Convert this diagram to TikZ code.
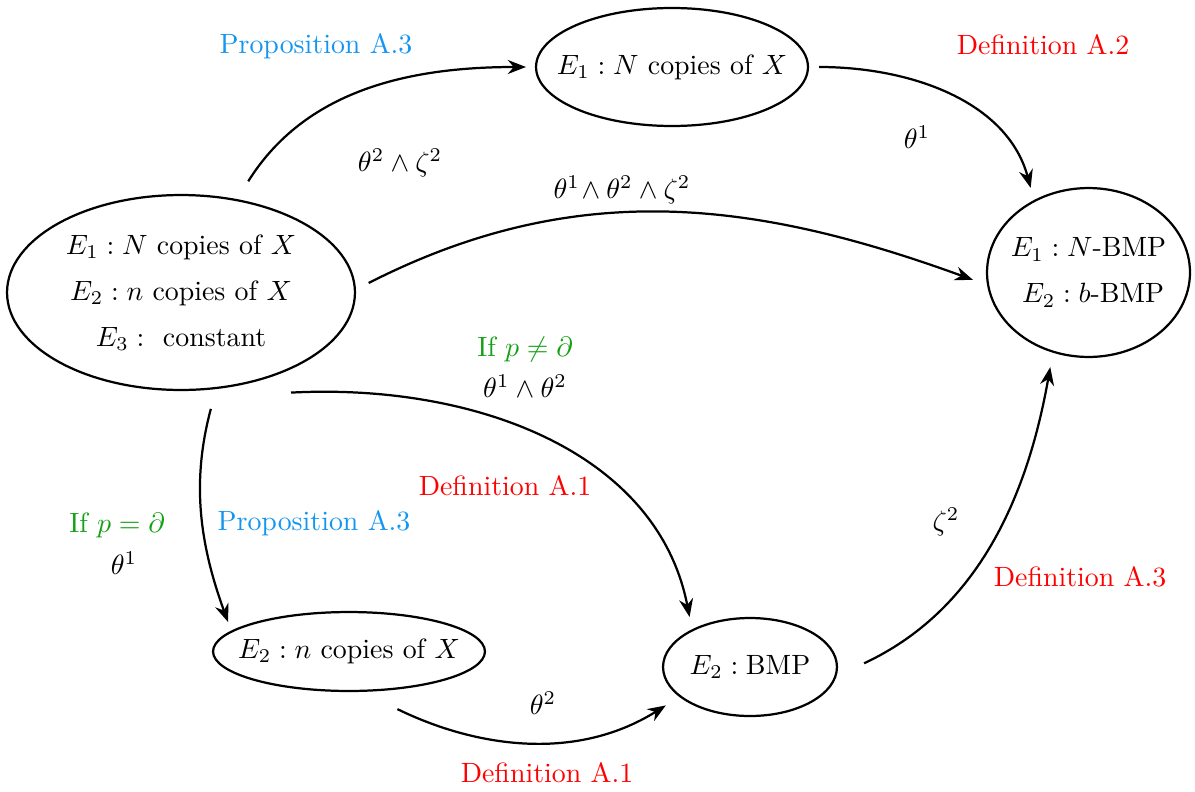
\documentclass[tikz,border=0pt]{standalone}
\usepackage{amsmath,amssymb}
\usepackage{xcolor}
\usepackage{tikz}
\usetikzlibrary{arrows.meta, positioning, shapes.geometric, calc}

\definecolor{propblue}{RGB}{20,150,240}
\definecolor{condgreen}{RGB}{20,160,20}

\begin{document}
\begin{tikzpicture}[x=0.0126cm, y=-0.0126cm,
  state/.style={draw, thick, ellipse, inner sep=0pt},
  flow/.style={-{Stealth[length=6.5pt, width=5pt]}, thick},
  prop/.style={text=propblue},
  defn/.style={text=red},
  cond/.style={text=condgreen}]

\useasboundingbox (0,0) rectangle (1195,791);

% -- States -----------------------------------------------------------------
\node[state, minimum width=3.427cm, minimum height=1.487cm] (top) at (672,67) {};
\node[state, minimum width=4.385cm, minimum height=2.457cm] (src) at (181,292.5) {};
\node[state, minimum width=2.558cm, minimum height=2.129cm] (goal) at (1088.5,272.5) {};
\node[state, minimum width=3.427cm, minimum height=0.995cm] (low) at (349,651.5) {};
\node[state, minimum width=2.192cm, minimum height=1.235cm] (bmp) at (750,667) {};

\node (topT) at (top) {$E_1 : N$ copies of $X$};
\node[align=center] (srcT) at (src)
  {$E_1 : N$ copies of $X$\\[4.5pt] $E_2 : n$ copies of $X$\\[4.5pt] $E_3 :$~ constant};
\node[align=center] (goalT) at (goal) {$E_1 : N$-BMP\\[4.5pt] \,\,$E_2 : b$-BMP};
\node (lowT) at (low) {$E_2 : n$ copies of $X$};
\node (bmpT) at (bmp) {$E_2 : \mathrm{BMP}$};

% -- Transitions ------------------------------------------------------------
\draw[flow, shorten <=0.265cm, shorten >=0.113cm]
  (src.59) to[out=58, in=180] (top.180);
\draw[flow, shorten <=0.126cm, shorten >=0.159cm]
  (top.0) to[out=0, in=105] (goal.127);
\draw[flow, shorten <=0.179cm, shorten >=0.189cm]
  (src.1.5) to[out=27, in=160] (goal.187);
\draw[flow, shorten >=0.158cm]
  ($(src.south)+(110,1.5)$) to[out=3, in=101] (bmp.147.5);
\draw[flow, shorten <=0.258cm, shorten >=0.117cm]
  (src.-70) to[out=255, in=110] (low.170);
\draw[flow, shorten <=0.495cm, shorten >=0.202cm]
  (low.-72) to[out=-26, in=212] (bmp.203);
\draw[flow, shorten <=0.382cm, shorten >=0.184cm]
  (bmp.-6) to[out=25, in=-100] (goal.-114.5);

% -- Labels -----------------------------------------------------------------
\node[prop] (p1) at (316,46) {Proposition A.3};
\node (l1) at (400,163) {$\theta^2 \wedge \zeta^2$};
\node[defn] (d2) at (1043,45) {Definition A.2};
\node (l2) at (917,137) {$\theta^1$};
\node (l3) at (622,190) {$\theta^1\!\wedge \theta^2 \wedge \zeta^2$};
\node[cond] (c1) at (525,349) {If $p \neq \partial$};
\node (l4) at (525,386) {$\theta^1 \wedge \theta^2$};
\node[defn] (d1a) at (505,486) {Definition A.1};
\node[cond] (c2) at (117,525) {If $p = \partial$};
\node (l5) at (124,563) {$\theta^1$};
\node[prop] (p2) at (314,523) {Proposition A.3};
\node (l6) at (543,703) {$\theta^2$};
\node[defn] (d1b) at (547,773) {Definition A.1};
\node (l7) at (946,522) {$\zeta^2$};
\node[defn] (d3) at (1080,577) {Definition A.3};

\end{tikzpicture}
\end{document}
